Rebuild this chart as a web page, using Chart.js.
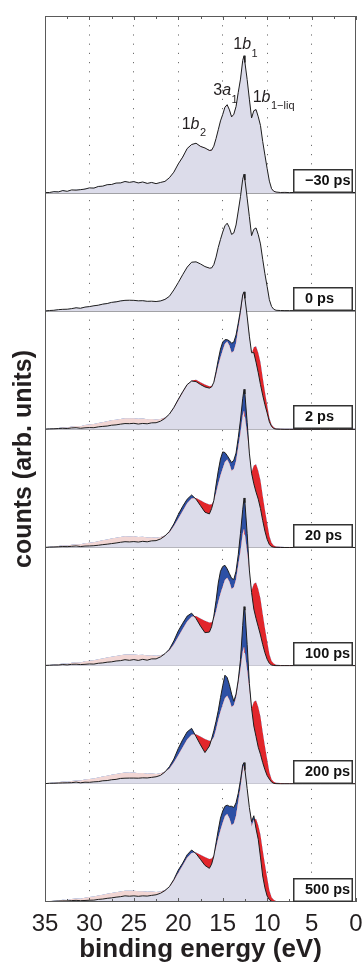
<!DOCTYPE html>
<html>
<head>
<meta charset="utf-8">
<script src="https://cdn.jsdelivr.net/npm/chart.js@4.4.1/dist/chart.umd.min.js"></script>
<style>
  html, body { margin: 0; padding: 0; background: #fff; overflow: hidden; }
  canvas { display: block; }
</style>
</head>
<body>
<canvas id="spectra" width="363" height="966"></canvas>
<script>
// --- Data ---
// binding energy grid (eV), high to low
const ENERGY = [
  35, 34.5, 34, 33.5, 33, 32.5, 32, 31.5, 31, 30.5,
  30, 29.5, 29, 28.5, 28, 27.5, 27, 26.5, 26, 25.5,
  25, 24.5, 24, 23.5, 23, 22.5, 22, 21.5, 21, 20.5,
  20, 19.5, 19, 18.5, 18, 17.5, 17, 16.5, 16.25, 16,
  15.75, 15.5, 15.25, 15, 14.75, 14.5, 14.25, 14, 13.75, 13.5,
  13.25, 13, 12.75, 12.6, 12.5, 12.25, 12, 11.75, 11.5, 11.25,
  11, 10.75, 10.5, 10.25, 10, 9.75, 9.5, 9.25, 9, 8.5,
  8, 7.5, 7, 6, 5, 4, 3, 2, 1, 0
];

const ENERGY_TICKS = [35, 30, 25, 20, 15, 10, 5, 0];
const ENERGY_MINOR = [32.5, 27.5, 22.5, 17.5, 12.5, 7.5, 2.5];

// pump-probe delays, top panel first
const DELAYS = ['\u221230 ps', '0 ps', '2 ps', '20 ps', '100 ps', '200 ps', '500 ps'];

// unpumped spectrum (shaded area in every panel)
const REFERENCE = [
  0.4, 0.7, 1.1, 1.3, 1.9, 1.7, 2.5, 2.9, 2.8, 3.7,
  4.2, 4.6, 5.4, 6.2, 6.9, 7.7, 8.3, 8.9, 9.6, 9.5,
  9.6, 9.0, 9.2, 8.6, 8.8, 8.4, 8.9, 10.2, 12.8, 18,
  24.5, 31, 37.5, 41.5, 42, 40, 38, 36.5, 36.8, 39.5,
  46, 54, 61, 67, 72.5, 74.5, 71, 65, 66.5, 73,
  85, 97, 112, 116, 111, 96, 80, 64, 69.5, 70.5,
  65, 57, 44, 32, 21, 10, 4, 1.8, 0.9, 0.7,
  0.6, 0.6, 0.6, 0.6, 0.6, 0.6, 0.6, 0.6, 0.6, 0.6
];

// measured spectra, one per delay
const COUNTS_M30 = [
  0.5, 0.6, 1.3, 1.1, 2.2, 1.6, 2.8, 2.6, 3.0, 3.5,
  4.5, 4.3, 5.7, 6.0, 7.2, 7.4, 8.6, 8.7, 9.9, 9.2,
  9.8, 8.7, 9.5, 8.3, 9.1, 8.1, 9.1, 10.0, 13.1, 17.8,
  24.8, 30.6, 37.8, 41.2, 42.3, 39.6, 38.3, 36.2, 36.4, 39.8,
  46.3, 53.7, 61.2, 66.6, 72.8, 74.9, 70.6, 64.6, 66.8, 73.3,
  85.4, 96.6, 112.3, 116.4, 110.6, 96.3, 79.6, 63.7, 69.8, 70.8,
  64.7, 57.3, 43.8, 32.2, 20.8, 10.2, 3.8, 1.6, 1.0, 0.6,
  0.7, 0.5, 0.6, 0.6, 0.6, 0.6, 0.6, 0.6, 0.6, 0.6
];
const COUNTS_0 = [
  0.3, 0.7, 0.9, 1.4, 1.7, 1.8, 2.3, 3.0, 2.6, 3.6,
  4.0, 4.7, 5.2, 6.1, 6.6, 7.6, 8.0, 8.8, 9.3, 9.4,
  9.3, 8.9, 9.0, 8.5, 8.6, 8.3, 8.8, 10.1, 12.7, 18.1,
  24.4, 31.1, 37.4, 41.6, 41.9, 40.1, 37.9, 36.6, 36.7, 39.6,
  45.9, 54.1, 60.9, 67.1, 72.4, 74.6, 70.9, 65.1, 66.4, 73.1,
  84.9, 97.1, 111.8, 116.1, 111.2, 95.8, 80.2, 64.1, 69.4, 70.6,
  64.9, 57.1, 44.1, 31.9, 21.1, 9.9, 4.1, 1.7, 0.9, 0.7,
  0.6, 0.6, 0.6, 0.6, 0.6, 0.6, 0.6, 0.6, 0.6, 0.6
];
const COUNTS_2 = [
  0.3, 0.5, 0.6, 0.8, 1.0, 0.8, 1.3, 1.5, 1.0, 1.4,
  1.6, 1.5, 2.2, 2.6, 2.9, 3.6, 3.9, 4.5, 5.0, 4.9,
  5.2, 4.6, 5.1, 4.8, 5.6, 5.7, 7.0, 9.4, 13.0, 18.6,
  25.5, 32, 38, 41, 40.5, 38, 36, 35, 36, 40,
  49, 59, 68, 74, 76, 76, 75, 73, 74, 80,
  90, 101, 114, 116.5, 111, 96, 79, 65, 65, 57,
  48, 38, 29, 21, 14, 6.5, 2.5, 0.8, 0.3, 0.2,
  0.1, 0.1, 0.1, 0.1, 0.1, 0.1, 0.1, 0.1, 0.1, 0.1
];
const COUNTS_20 = [
  0.2, 0.4, 0.5, 0.7, 0.9, 0.8, 1.1, 1.4, 0.9, 1.3,
  1.4, 1.6, 2.0, 2.5, 2.9, 3.4, 3.9, 4.5, 5.0, 4.8,
  5.1, 4.7, 5.3, 4.9, 5.7, 5.9, 7.3, 9.9, 13.6, 20,
  28, 35, 41, 44.5, 41, 35.5, 30, 28.5, 33, 40,
  53, 65, 75, 81, 80.5, 78, 75, 72, 74, 80,
  93, 108, 126, 134, 130, 106, 80, 63, 54, 47,
  41, 33, 23, 14, 7, 2.5, 0.8, 0.3, 0.2, 0.1,
  0.1, 0.1, 0.1, 0.1, 0.1, 0.1, 0.1, 0.1, 0.1, 0.1
];
const COUNTS_100 = [
  0.3, 0.4, 0.6, 0.6, 1.0, 0.7, 1.2, 1.3, 1.0, 1.2,
  1.5, 1.4, 2.1, 2.4, 3.0, 3.3, 4.0, 4.3, 5.1, 4.6,
  5.2, 4.5, 5.4, 4.7, 5.8, 5.8, 7.5, 10.2, 14, 21,
  29.5, 36, 42, 44.5, 40, 33.5, 28, 28.5, 33, 42,
  55, 70, 80, 84, 85, 82, 78, 74, 73, 80,
  94, 112, 132, 142, 138, 112, 81, 62, 48, 40,
  33, 26, 18, 11, 5.5, 2, 0.6, 0.2, 0.1, 0.1,
  0.1, 0.1, 0.1, 0.1, 0.1, 0.1, 0.1, 0.1, 0.1, 0.1
];
const COUNTS_200 = [
  0.2, 0.5, 0.5, 0.7, 0.8, 0.9, 1.0, 1.5, 0.9, 1.4,
  1.3, 1.7, 1.9, 2.6, 2.8, 3.5, 3.8, 4.6, 4.8, 4.9,
  4.9, 4.8, 5.1, 5.0, 5.5, 6.0, 7.2, 10.1, 14.5, 21,
  30, 37.5, 44, 47, 40, 33, 26.5, 32, 38, 45,
  53, 62, 73, 83, 92, 90, 84, 76, 70, 76,
  88, 105, 134, 150, 147, 118, 85, 64, 49, 40,
  31, 25, 18, 12, 7, 4, 1.5, 0.4, 0.2, 0.1,
  0.1, 0.1, 0.1, 0.1, 0.1, 0.1, 0.1, 0.1, 0.1, 0.1
];
const COUNTS_500 = [
  0.3, 0.4, 0.6, 0.8, 0.9, 0.9, 1.2, 1.4, 1.1, 1.3,
  1.5, 1.6, 2.2, 2.5, 3.1, 3.5, 4.1, 4.5, 5.2, 4.9,
  5.2, 4.8, 5.2, 5.0, 5.6, 6.1, 7.4, 9.7, 13, 19,
  27, 33, 40, 44, 41, 36, 31, 28.5, 32, 39,
  50, 61, 71, 77, 81, 82, 81, 81, 80, 84,
  92, 103, 116, 118, 112, 96, 80, 68, 73, 62,
  53, 38, 22, 12, 5, 2, 0.6, 0.2, 0.1, 0.1,
  0.1, 0.1, 0.1, 0.1, 0.1, 0.1, 0.1, 0.1, 0.1, 0.1
];
const SPECTRA = [COUNTS_M30, COUNTS_0, COUNTS_2, COUNTS_20, COUNTS_100, COUNTS_200, COUNTS_500];

// orbital assignments written over the top spectrum
const ORBITALS = [
  { num: '1', orb: 'b', sub: '2', e: 19.62, h: 54.5 },
  { num: '3', orb: 'a', sub: '1', e: 16.06, h: 83 },
  { num: '1', orb: 'b', sub: '1', e: 13.81, h: 122 },
  { num: '1', orb: 'b', sub: '1\u2212liq', e: 11.63, h: 77.5 }
];

// --- Layout / style ---
const PANEL_STEP = 100;   // vertical offset between stacked spectra
const Y_MAX = 750;
const FONT = '"Liberation Sans", Arial, Helvetica, sans-serif';
const INK = '#231f20';
const COLORS = {
  shade: '#dcdcea',
  gain: '#2d50a5',
  loss: '#e2262b',
  lossFaint: '#f2d6d4',
  line: '#1d1d1d',
  grid: '#6e6e6e',
  sep: '#8e8e8e',
  frame: '#5a5a5a'
};

Chart.defaults.font.family = FONT;

const panelBase = i => (DELAYS.length - 1 - i) * PANEL_STEP;

// bottom panel first so upper panels end up underneath lower ones
const datasets = [];
for (let i = DELAYS.length - 1; i >= 0; i--) {
  const base = panelBase(i);
  const refIndex = datasets.length + 1;
  datasets.push({
    label: DELAYS[i],
    data: ENERGY.map((e, k) => ({ x: e, y: base + SPECTRA[i][k] })),
    borderColor: COLORS.line,
    borderWidth: 1,
    pointRadius: 0,
    fill: { target: refIndex, above: COLORS.gain, below: COLORS.loss }
  });
  datasets.push({
    label: DELAYS[i] + ' ref',
    data: ENERGY.map((e, k) => ({ x: e, y: base + REFERENCE[k] })),
    borderColor: 'rgba(0,0,0,0)',
    borderWidth: 0,
    pointRadius: 0,
    backgroundColor: COLORS.shade,
    fill: { value: base }
  });
}

const clear = 'rgba(0,0,0,0)';

const decorations = {
  id: 'decorations',
  afterDatasetsDraw(chart) {
    const { ctx, chartArea: a, scales: { x, y } } = chart;
    ctx.save();

    // frame + inward ticks
    ctx.strokeStyle = COLORS.frame;
    ctx.lineWidth = 1;
    ctx.strokeRect(a.left + 0.5, a.top + 0.5, a.right - a.left - 1, a.bottom - a.top - 1);
    const marks = ENERGY_TICKS.map(v => [v, 4]).concat(ENERGY_MINOR.map(v => [v, 3]));
    marks.forEach(([v, len]) => {
      const px = Math.round(x.getPixelForValue(v)) + 0.5;
      ctx.beginPath();
      ctx.moveTo(px, a.top);
      ctx.lineTo(px, a.top + len);
      ctx.moveTo(px, a.bottom);
      ctx.lineTo(px, a.bottom - len);
      ctx.stroke();
    });

    // delay captions
    DELAYS.forEach((label, i) => {
      const base = Math.round(y.getPixelForValue(panelBase(i)));
      const w = 60, h = 24;
      const left = Math.round(a.right - 3 - w);
      ctx.fillStyle = '#fff';
      ctx.fillRect(left, base - h, w, h);
      ctx.strokeStyle = '#333';
      ctx.lineWidth = 1.5;
      ctx.strokeRect(left + 0.75, base - h + 0.75, w - 1.5, h - 1.5);
      ctx.fillStyle = '#111';
      ctx.font = 'bold 14.5px ' + FONT;
      ctx.textAlign = 'left';
      ctx.textBaseline = 'alphabetic';
      ctx.fillText(label, left + 12, base - 8);
    });

    // orbital labels
    ctx.fillStyle = INK;
    ctx.textAlign = 'left';
    ctx.textBaseline = 'alphabetic';
    ORBITALS.forEach(o => {
      let px = x.getPixelForValue(o.e);
      const py = y.getPixelForValue(panelBase(0) + o.h);
      ctx.font = '16px ' + FONT;
      ctx.fillText(o.num, px, py);
      px += ctx.measureText(o.num).width;
      ctx.font = 'italic 16px ' + FONT;
      ctx.fillText(o.orb, px, py);
      px += ctx.measureText(o.orb).width;
      ctx.font = '11px ' + FONT;
      ctx.fillText(o.sub, px + 0.5, py + 7.5);
    });
    ctx.restore();
  },
  afterDraw(chart) {
    const { ctx, chartArea: a } = chart;
    ctx.save();
    ctx.fillStyle = INK;
    ctx.textAlign = 'center';

    // x title
    ctx.font = 'bold 26px ' + FONT;
    ctx.textBaseline = 'alphabetic';
    ctx.fillText('binding energy (eV)', (a.left + a.right) / 2, a.bottom + 55);

    // y title
    ctx.font = 'bold 25px ' + FONT;
    ctx.textBaseline = 'middle';
    ctx.translate(24, (a.top + a.bottom) / 2);
    ctx.rotate(-Math.PI / 2);
    ctx.fillText('counts (arb. units)', 0, 0);
    ctx.restore();
  }
};

const chart = new Chart(document.getElementById('spectra'), {
  type: 'line',
  data: { datasets },
  options: {
    responsive: false,
    animation: false,
    events: [],
    layout: { padding: { top: 16, right: 0, left: 0, bottom: 0 } },
    elements: { line: { tension: 0 } },
    plugins: {
      legend: { display: false },
      tooltip: { enabled: false },
      filler: { propagate: false }
    },
    scales: {
      x: {
        type: 'linear',
        reverse: true,
        min: 0,
        max: 35,
        afterBuildTicks: s => { s.ticks = ENERGY_TICKS.map(v => ({ value: v })); },
        afterFit: s => { s.height = 64; s.paddingRight = 7; },
        ticks: { font: { size: 24 }, color: INK, padding: 8, maxRotation: 0, autoSkip: false },
        grid: {
          drawTicks: false,
          lineWidth: 1,
          color: c => (c.tick && c.tick.value > 0 && c.tick.value < 35) ? COLORS.grid : clear
        },
        border: { display: false, dash: [1.2, 8] }
      },
      y: {
        type: 'linear',
        min: 0,
        max: Y_MAX,
        afterBuildTicks: s => { s.ticks = DELAYS.map((_, i) => ({ value: i * PANEL_STEP })); },
        afterFit: s => { s.width = 45; },
        ticks: { display: false },
        grid: {
          drawTicks: false,
          lineWidth: 1,
          color: c => (c.tick && c.tick.value > 0) ? COLORS.sep : clear
        },
        border: { display: false }
      }
    }
  },
  plugins: [decorations]
});

// weak losses in the high binding-energy tail are shown in a pale tint
const xs = chart.scales.x;
const lossTint = chart.ctx.createLinearGradient(xs.getPixelForValue(22), 0, xs.getPixelForValue(21), 0);
lossTint.addColorStop(0, COLORS.lossFaint);
lossTint.addColorStop(1, COLORS.loss);
chart.data.datasets.forEach(ds => {
  if (ds.fill && ds.fill.target !== undefined) ds.fill.below = lossTint;
});
chart.update('none');
</script>
</body>
</html>
